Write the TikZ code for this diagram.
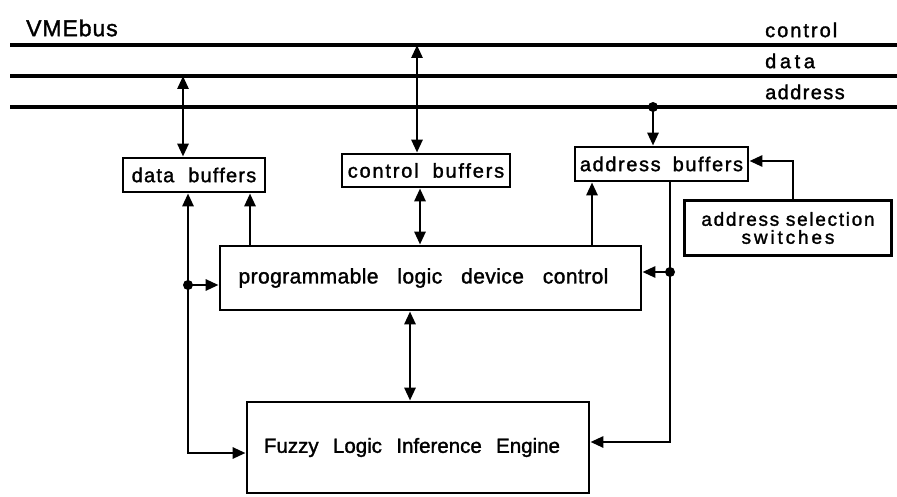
\documentclass[tikz,border=0pt]{standalone}
\usepackage{fontspec}
\setmainfont[FakeBold=1.5]{Liberation Sans}
\usetikzlibrary{arrows.meta}
\newcommand\lsx[2]{{\addfontfeatures{LetterSpace=#1}#2}}
\begin{document}
\begin{tikzpicture}[x=1pt,y=-1pt,
  >={Triangle[length=13pt,width=11pt]},
  box/.style={draw, line width=2.8pt, inner sep=0pt, font=\fontsize{20}{20}\selectfont},
  conn/.style={line width=2.8pt},
  bus/.style={line width=3.2pt},
  dot/.style={circle, fill, inner sep=0pt, minimum size=10pt},
  lbl/.style={inner sep=0pt, anchor=west, font=\fontsize{20}{20}\selectfont}]
\useasboundingbox (0,0) rectangle (897,497);

% bus
\coordinate (cL) at (10,45);  \coordinate (cR) at (897,45);
\coordinate (dL) at (10,76);  \coordinate (dR) at (897,76);
\coordinate (aL) at (10,107); \coordinate (aR) at (897,107);
\draw[bus] (cL) -- (cR);
\draw[bus] (dL) -- (dR);
\draw[bus] (aL) -- (aR);
\node[inner sep=0pt, anchor=west, font=\fontsize{23}{23}\selectfont] (vme) at (26,28) {\lsx{4}{VMEbus}};
\node[lbl] (lc) at (765,30) {\lsx{10}{control}};
\node[lbl] (ld) at (765,61) {\lsx{18}{data}};
\node[lbl] (la) at (765,92) {\lsx{7}{address}};

% boxes
\node[box, minimum width=142pt, minimum height=34pt] (db) at (194,175) {\lsx{6}{data\hspace{0.7em}buffers}};
\node[box, minimum width=168pt, minimum height=33pt] (cb) at (426,170.5) {\lsx{9}{control\hspace{0.7em}buffers}};
\node[box, minimum width=173pt, minimum height=34pt] (ab) at (661.5,164) {\lsx{8}{address\hspace{0.6em}buffers}};
\node[box, minimum width=207pt, minimum height=55pt, align=center,
      font=\fontsize{19}{18}\selectfont] (as) at (788,228)
      {\lsx{9}{address\hspace{0.35em}selection}\\\lsx{15}{switches}};
\node[box, minimum width=421pt, minimum height=64pt, font=\fontsize{21}{21}\selectfont] (pld) at (430.5,278)
      {\lsx{2}{programmable\hspace{0.9em}logic\hspace{0.9em}device\hspace{0.9em}control}\hspace*{14pt}};
\node[box, minimum width=342pt, minimum height=91pt, font=\fontsize{20.5}{20.5}\selectfont] (fz) at (418,447.5)
      {Fuzzy\hspace{0.7em}Logic\hspace{0.7em}Inference\hspace{0.7em}Engine\hspace*{12pt}};

% x positions
\coordinate (x1) at (183,0);
\coordinate (x2) at (417,0);
\coordinate (x3) at (653,0);
\coordinate (x4) at (188,0);
\coordinate (x5) at (250,0);
\coordinate (x6) at (420,0);
\coordinate (x7) at (592,0);
\coordinate (x8) at (670,0);
\coordinate (x10) at (410,0);

% bus connections
\draw[conn,<->] (dL -| x1) -- (db.north -| x1);
\draw[conn,<->] (cL -| x2) -- (cb.north -| x2);
\node[dot] (j1) at (aL -| x3) {};
\draw[conn,->] (j1.center) -- (ab.north -| x3);

% data buffers paths
\coordinate (c4) at (188,453);
\draw[conn,<->] (db.south -| x4) -- (c4) -- (fz.west |- c4);
\node[dot] (j2) at (188,285) {};
\draw[conn,->] (j2.center) -- (pld.west |- j2);
\draw[conn,->] (pld.north -| x5) -- (db.south -| x5);

% control buffers
\draw[conn,<->] (cb.south -| x6) -- (pld.north -| x6);

% address buffers
\draw[conn,->] (pld.north -| x7) -- (ab.south -| x7);
\coordinate (c8) at (670,442);
\draw[conn,->] (ab.south -| x8) -- (c8) -- (fz.east |- c8);
\node[dot] (j3) at (670,272) {};
\draw[conn,->] (j3.center) -- (pld.east |- j3);

% address selection switches
\coordinate (c9) at (793,161);
\draw[conn,->] (as.north -| c9) -- (c9) -- (ab.east |- c9);

% pld - fuzzy
\draw[conn,<->] (pld.south -| x10) -- (fz.north -| x10);
\end{tikzpicture}
\end{document}
